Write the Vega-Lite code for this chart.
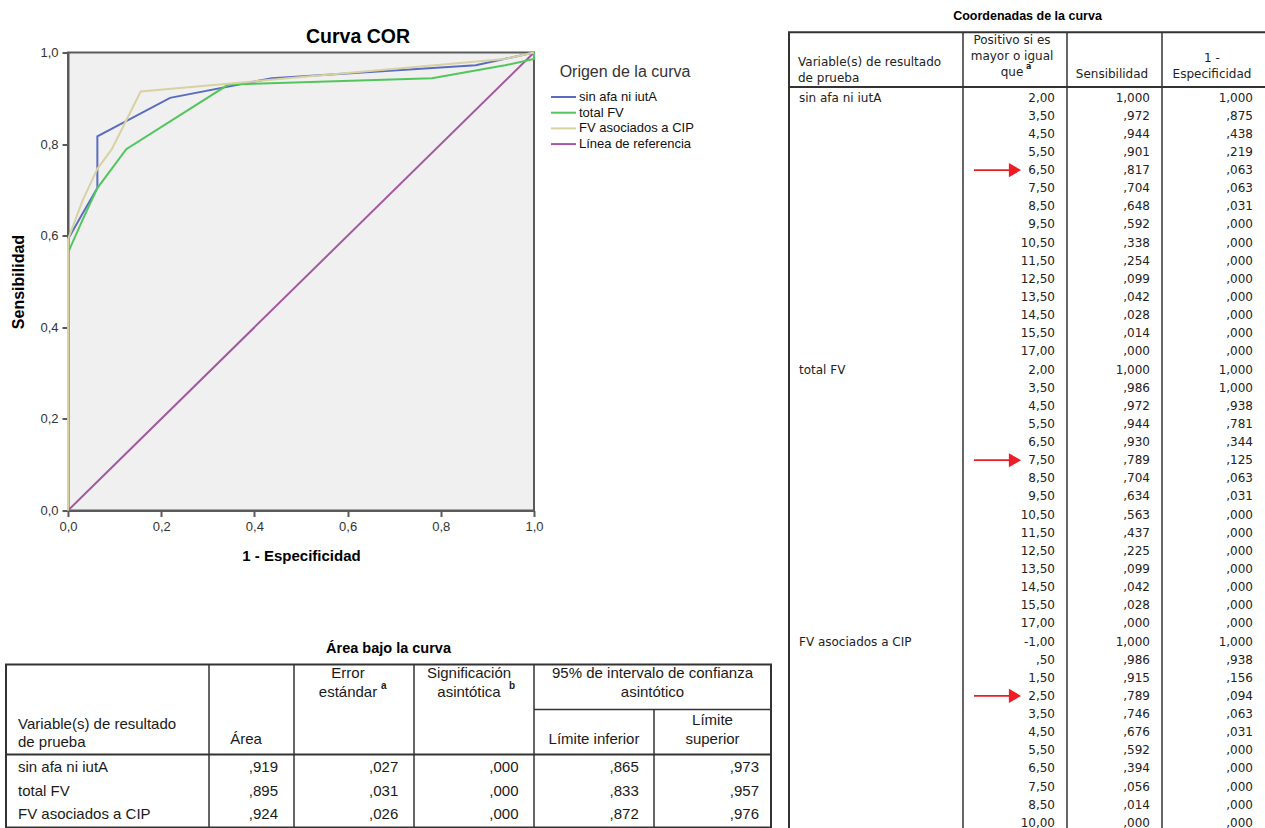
{
  "$schema": "https://vega.github.io/schema/vega-lite/v6.json",
  "padding": {"left": 5, "top": 8, "right": 0, "bottom": 0},
  "background": "white",
  "datasets": {
    "coordenadas": [
      {"n": 1, "variable": "sin afa ni iutA", "umbral": 2.0, "sens": 1.0, "esp": 1.0, "flecha": false},
      {"n": 2, "variable": "sin afa ni iutA", "umbral": 3.5, "sens": 0.972, "esp": 0.875, "flecha": false},
      {"n": 3, "variable": "sin afa ni iutA", "umbral": 4.5, "sens": 0.944, "esp": 0.438, "flecha": false},
      {"n": 4, "variable": "sin afa ni iutA", "umbral": 5.5, "sens": 0.901, "esp": 0.219, "flecha": false},
      {"n": 5, "variable": "sin afa ni iutA", "umbral": 6.5, "sens": 0.817, "esp": 0.063, "flecha": true},
      {"n": 6, "variable": "sin afa ni iutA", "umbral": 7.5, "sens": 0.704, "esp": 0.063, "flecha": false},
      {"n": 7, "variable": "sin afa ni iutA", "umbral": 8.5, "sens": 0.648, "esp": 0.031, "flecha": false},
      {"n": 8, "variable": "sin afa ni iutA", "umbral": 9.5, "sens": 0.592, "esp": 0.0, "flecha": false},
      {"n": 9, "variable": "sin afa ni iutA", "umbral": 10.5, "sens": 0.338, "esp": 0.0, "flecha": false},
      {"n": 10, "variable": "sin afa ni iutA", "umbral": 11.5, "sens": 0.254, "esp": 0.0, "flecha": false},
      {"n": 11, "variable": "sin afa ni iutA", "umbral": 12.5, "sens": 0.099, "esp": 0.0, "flecha": false},
      {"n": 12, "variable": "sin afa ni iutA", "umbral": 13.5, "sens": 0.042, "esp": 0.0, "flecha": false},
      {"n": 13, "variable": "sin afa ni iutA", "umbral": 14.5, "sens": 0.028, "esp": 0.0, "flecha": false},
      {"n": 14, "variable": "sin afa ni iutA", "umbral": 15.5, "sens": 0.014, "esp": 0.0, "flecha": false},
      {"n": 15, "variable": "sin afa ni iutA", "umbral": 17.0, "sens": 0.0, "esp": 0.0, "flecha": false},
      {"n": 16, "variable": "total FV", "umbral": 2.0, "sens": 1.0, "esp": 1.0, "flecha": false},
      {"n": 17, "variable": "total FV", "umbral": 3.5, "sens": 0.986, "esp": 1.0, "flecha": false},
      {"n": 18, "variable": "total FV", "umbral": 4.5, "sens": 0.972, "esp": 0.938, "flecha": false},
      {"n": 19, "variable": "total FV", "umbral": 5.5, "sens": 0.944, "esp": 0.781, "flecha": false},
      {"n": 20, "variable": "total FV", "umbral": 6.5, "sens": 0.93, "esp": 0.344, "flecha": false},
      {"n": 21, "variable": "total FV", "umbral": 7.5, "sens": 0.789, "esp": 0.125, "flecha": true},
      {"n": 22, "variable": "total FV", "umbral": 8.5, "sens": 0.704, "esp": 0.063, "flecha": false},
      {"n": 23, "variable": "total FV", "umbral": 9.5, "sens": 0.634, "esp": 0.031, "flecha": false},
      {"n": 24, "variable": "total FV", "umbral": 10.5, "sens": 0.563, "esp": 0.0, "flecha": false},
      {"n": 25, "variable": "total FV", "umbral": 11.5, "sens": 0.437, "esp": 0.0, "flecha": false},
      {"n": 26, "variable": "total FV", "umbral": 12.5, "sens": 0.225, "esp": 0.0, "flecha": false},
      {"n": 27, "variable": "total FV", "umbral": 13.5, "sens": 0.099, "esp": 0.0, "flecha": false},
      {"n": 28, "variable": "total FV", "umbral": 14.5, "sens": 0.042, "esp": 0.0, "flecha": false},
      {"n": 29, "variable": "total FV", "umbral": 15.5, "sens": 0.028, "esp": 0.0, "flecha": false},
      {"n": 30, "variable": "total FV", "umbral": 17.0, "sens": 0.0, "esp": 0.0, "flecha": false},
      {"n": 31, "variable": "FV asociados a CIP", "umbral": -1.0, "sens": 1.0, "esp": 1.0, "flecha": false},
      {"n": 32, "variable": "FV asociados a CIP", "umbral": 0.5, "sens": 0.986, "esp": 0.938, "flecha": false},
      {"n": 33, "variable": "FV asociados a CIP", "umbral": 1.5, "sens": 0.915, "esp": 0.156, "flecha": false},
      {"n": 34, "variable": "FV asociados a CIP", "umbral": 2.5, "sens": 0.789, "esp": 0.094, "flecha": true},
      {"n": 35, "variable": "FV asociados a CIP", "umbral": 3.5, "sens": 0.746, "esp": 0.063, "flecha": false},
      {"n": 36, "variable": "FV asociados a CIP", "umbral": 4.5, "sens": 0.676, "esp": 0.031, "flecha": false},
      {"n": 37, "variable": "FV asociados a CIP", "umbral": 5.5, "sens": 0.592, "esp": 0.0, "flecha": false},
      {"n": 38, "variable": "FV asociados a CIP", "umbral": 6.5, "sens": 0.394, "esp": 0.0, "flecha": false},
      {"n": 39, "variable": "FV asociados a CIP", "umbral": 7.5, "sens": 0.056, "esp": 0.0, "flecha": false},
      {"n": 40, "variable": "FV asociados a CIP", "umbral": 8.5, "sens": 0.014, "esp": 0.0, "flecha": false},
      {"n": 41, "variable": "FV asociados a CIP", "umbral": 10.0, "sens": 0.0, "esp": 0.0, "flecha": false}
    ],
    "referencia": [
      {"variable": "Línea de referencia", "esp": 0, "sens": 0},
      {"variable": "Línea de referencia", "esp": 1, "sens": 1}
    ],
    "area": [
      {"n": 1, "variable": "sin afa ni iutA", "area": 0.919, "ee": 0.027, "sig": 0.0, "li": 0.865, "ls": 0.973},
      {"n": 2, "variable": "total FV", "area": 0.895, "ee": 0.031, "sig": 0.0, "li": 0.833, "ls": 0.957},
      {"n": 3, "variable": "FV asociados a CIP", "area": 0.924, "ee": 0.026, "sig": 0.0, "li": 0.872, "ls": 0.976}
    ]
  },
  "spacing": 15,
  "center": true,
  "resolve": {"scale": {"color": "independent"}, "legend": {"color": "independent"}},
  "hconcat": [
    {
      "spacing": 76,
      "resolve": {"scale": {"color": "independent"}, "legend": {"color": "independent"}},
      "vconcat": [
        {
          "width": 466,
          "height": 458,
          "title": {"text": "Curva COR", "frame": "bounds", "anchor": "middle", "fontSize": 19.5, "fontWeight": "bold", "color": "#000", "offset": -1},
          "view": {"fill": "#f0f0f0", "stroke": "#5a5a5a", "strokeWidth": 2},
          "encoding": {
            "x": {
              "field": "esp", "type": "quantitative", "title": "1 - Especificidad",
              "scale": {"domain": [0, 1], "nice": false},
              "axis": {
                "values": [0, 0.2, 0.4, 0.6, 0.8, 1],
                "labelExpr": "replace(format(datum.value, '.1f'), '.', ',')",
                "grid": false, "domainColor": "#5a5a5a", "domainWidth": 2,
                "tickColor": "#5a5a5a", "tickWidth": 2, "tickSize": 6,
                "labelPadding": 4, "labelFontSize": 13, "labelColor": "#333", "labelFlush": false,
                "titleFontSize": 15, "titleFontWeight": "bold", "titleColor": "#000", "titlePadding": 15
              }
            },
            "y": {
              "field": "sens", "type": "quantitative", "title": "Sensibilidad",
              "scale": {"domain": [0, 1], "nice": false},
              "axis": {
                "values": [0, 0.2, 0.4, 0.6, 0.8, 1],
                "labelExpr": "replace(format(datum.value, '.1f'), '.', ',')",
                "grid": false, "domainColor": "#5a5a5a", "domainWidth": 2,
                "tickColor": "#5a5a5a", "tickWidth": 2, "tickSize": 6,
                "labelPadding": 4, "labelFontSize": 13, "labelColor": "#333", "labelFlush": false,
                "titleFontSize": 16, "titleFontWeight": "bold", "titleColor": "#000", "titlePadding": 13
              }
            },
            "color": {
              "field": "variable", "type": "nominal",
              "scale": {
                "domain": ["sin afa ni iutA", "total FV", "FV asociados a CIP", "Línea de referencia"],
                "range": ["#5a6cc0", "#52c65c", "#d8d2a2", "#a3599f"]
              },
              "legend": {
                "title": "Origen de la curva", "orient": "right", "offset": 7, "padding": 11,
                "symbolType": "M-2,0L2,0", "symbolSize": 156, "symbolStrokeWidth": 2,
                "labelOffset": 8, "labelFontSize": 13, "labelColor": "#111",
                "titleFontSize": 16, "titleFontWeight": "normal", "titleColor": "#333",
                "titleAnchor": "middle", "titlePadding": 10, "rowPadding": 0.7
              }
            }
          },
          "layer": [
            {"data": {"name": "referencia"}, "mark": {"type": "line", "strokeWidth": 2}},
            {"data": {"name": "coordenadas"}, "mark": {"type": "line", "strokeWidth": 2}, "encoding": {"order": {"field": "n"}}}
          ]
        },
        {
          "width": 703,
          "height": 163,
          "title": {"text": "Área bajo la curva", "anchor": "middle", "dx": -31, "fontSize": 14.5, "fontWeight": "bold", "color": "#000", "offset": 7},
          "resolve": {"scale": {"x": "independent"}},
          "layer": [
            {
              "data": {"values": [{}]},
              "mark": {"type": "rect", "fill": null, "stroke": "#333", "strokeWidth": 2},
              "encoding": {
                "x": {"datum": 0, "type": "quantitative", "scale": {"domain": [0, 765], "range": [-62, 703], "nice": false, "zero": false}, "axis": null},
                "x2": {"datum": 765},
                "y": {"datum": -3.362, "type": "quantitative", "scale": {"domain": [-3.362, 3.574], "reverse": true, "nice": false, "zero": false}, "axis": null},
                "y2": {"datum": 3.574}
              }
            },
            {
              "data": {"values": [{}]},
              "mark": {"type": "rule", "color": "#333", "strokeWidth": 1.5},
              "encoding": {"x": {"datum": 203, "type": "quantitative", "scale": {"domain": [0, 765], "range": [-62, 703], "nice": false, "zero": false}, "axis": null}}
            },
            {
              "data": {"values": [{}]},
              "mark": {"type": "rule", "color": "#333", "strokeWidth": 1.5},
              "encoding": {"x": {"datum": 288, "type": "quantitative", "scale": {"domain": [0, 765], "range": [-62, 703], "nice": false, "zero": false}, "axis": null}}
            },
            {
              "data": {"values": [{}]},
              "mark": {"type": "rule", "color": "#333", "strokeWidth": 1.5},
              "encoding": {"x": {"datum": 408, "type": "quantitative", "scale": {"domain": [0, 765], "range": [-62, 703], "nice": false, "zero": false}, "axis": null}}
            },
            {
              "data": {"values": [{}]},
              "mark": {"type": "rule", "color": "#333", "strokeWidth": 1.5},
              "encoding": {"x": {"datum": 528, "type": "quantitative", "scale": {"domain": [0, 765], "range": [-62, 703], "nice": false, "zero": false}, "axis": null}}
            },
            {
              "data": {"values": [{}]},
              "mark": {"type": "rule", "color": "#333", "strokeWidth": 1.5},
              "encoding": {
                "x": {"datum": 648, "type": "quantitative", "scale": {"domain": [0, 765], "range": [-62, 703], "nice": false, "zero": false}, "axis": null},
                "y": {"datum": -1.447, "type": "quantitative", "scale": {"domain": [-3.362, 3.574], "reverse": true, "nice": false, "zero": false}, "axis": null},
                "y2": {"datum": 3.574}
              }
            },
            {
              "data": {"values": [{}]},
              "mark": {"type": "rule", "color": "#333", "strokeWidth": 1.5},
              "encoding": {
                "x": {"datum": 528, "type": "quantitative", "scale": {"domain": [0, 765], "range": [-62, 703], "nice": false, "zero": false}, "axis": null},
                "x2": {"datum": 765},
                "y": {"datum": -1.447, "type": "quantitative", "scale": {"domain": [-3.362, 3.574], "reverse": true, "nice": false, "zero": false}, "axis": null}
              }
            },
            {
              "data": {"values": [{}]},
              "mark": {"type": "rule", "color": "#333", "strokeWidth": 2},
              "encoding": {
                "x": {"datum": 0, "type": "quantitative", "scale": {"domain": [0, 765], "range": [-62, 703], "nice": false, "zero": false}, "axis": null},
                "x2": {"datum": 765},
                "y": {"datum": 0.468, "type": "quantitative", "scale": {"domain": [-3.362, 3.574], "reverse": true, "nice": false, "zero": false}, "axis": null}
              }
            },
            {
              "data": {"name": "area"},
              "mark": {"type": "text", "align": "left", "baseline": "middle", "fontSize": 15, "color": "#1a1a1a"},
              "encoding": {
                "x": {"datum": 12, "type": "quantitative", "scale": {"domain": [0, 765], "range": [-62, 703], "nice": false, "zero": false}, "axis": null},
                "y": {"field": "n", "type": "quantitative", "scale": {"domain": [-3.362, 3.574], "reverse": true, "nice": false, "zero": false}, "axis": null},
                "text": {"field": "variable"}
              }
            },
            {
              "data": {"name": "area"},
              "transform": [
                {"fold": ["area", "ee", "sig", "li", "ls"], "as": ["medida", "valor"]},
                {"calculate": "replace(abs(datum.valor) < 1 ? replace(format(datum.valor, '.3f'), '0.', '.') : format(datum.valor, '.3f'), '.', ',')", "as": "valor_txt"}
              ],
              "mark": {"type": "text", "align": "right", "baseline": "middle", "fontSize": 15, "color": "#1a1a1a"},
              "encoding": {
                "x": {"field": "medida", "type": "nominal", "scale": {"type": "point", "domain": ["area", "ee", "sig", "li", "ls"], "range": [210, 691], "padding": 0}, "axis": null},
                "y": {"field": "n", "type": "quantitative", "scale": {"domain": [-3.362, 3.574], "reverse": true, "nice": false, "zero": false}, "axis": null},
                "text": {"field": "valor_txt"}
              }
            },
            {
              "data": {"values": [{}]},
              "mark": {"type": "text", "text": ["Variable(s) de resultado", "de prueba"], "lineHeight": 18, "align": "left", "baseline": "middle", "fontSize": 15, "color": "#1a1a1a"},
              "encoding": {
                "x": {"datum": 12, "type": "quantitative", "scale": {"domain": [0, 765], "range": [-62, 703], "nice": false, "zero": false}, "axis": null},
                "y": {"datum": -0.809, "type": "quantitative", "scale": {"domain": [-3.362, 3.574], "reverse": true, "nice": false, "zero": false}, "axis": null}
              }
            },
            {
              "data": {"values": [{}]},
              "mark": {"type": "text", "text": "Área", "align": "center", "baseline": "middle", "fontSize": 15, "color": "#1a1a1a"},
              "encoding": {
                "x": {"datum": 240, "type": "quantitative", "scale": {"domain": [0, 765], "range": [-62, 703], "nice": false, "zero": false}, "axis": null},
                "y": {"datum": -0.213, "type": "quantitative", "scale": {"domain": [-3.362, 3.574], "reverse": true, "nice": false, "zero": false}, "axis": null}
              }
            },
            {
              "data": {"values": [{}]},
              "mark": {"type": "text", "text": ["Error", "estándar"], "lineHeight": 19, "align": "center", "baseline": "middle", "fontSize": 15, "color": "#1a1a1a"},
              "encoding": {
                "x": {"datum": 342, "type": "quantitative", "scale": {"domain": [0, 765], "range": [-62, 703], "nice": false, "zero": false}, "axis": null},
                "y": {"datum": -3.021, "type": "quantitative", "scale": {"domain": [-3.362, 3.574], "reverse": true, "nice": false, "zero": false}, "axis": null}
              }
            },
            {
              "data": {"values": [{}]},
              "mark": {"type": "text", "text": "a", "align": "left", "baseline": "middle", "fontSize": 10, "fontWeight": "bold", "color": "#1a1a1a"},
              "encoding": {
                "x": {"datum": 375, "type": "quantitative", "scale": {"domain": [0, 765], "range": [-62, 703], "nice": false, "zero": false}, "axis": null},
                "y": {"datum": -2.468, "type": "quantitative", "scale": {"domain": [-3.362, 3.574], "reverse": true, "nice": false, "zero": false}, "axis": null}
              }
            },
            {
              "data": {"values": [{}]},
              "mark": {"type": "text", "text": ["Significación", "asintótica"], "lineHeight": 19, "align": "center", "baseline": "middle", "fontSize": 15, "color": "#1a1a1a"},
              "encoding": {
                "x": {"datum": 463, "type": "quantitative", "scale": {"domain": [0, 765], "range": [-62, 703], "nice": false, "zero": false}, "axis": null},
                "y": {"datum": -3.021, "type": "quantitative", "scale": {"domain": [-3.362, 3.574], "reverse": true, "nice": false, "zero": false}, "axis": null}
              }
            },
            {
              "data": {"values": [{}]},
              "mark": {"type": "text", "text": "b", "align": "left", "baseline": "middle", "fontSize": 10, "fontWeight": "bold", "color": "#1a1a1a"},
              "encoding": {
                "x": {"datum": 503, "type": "quantitative", "scale": {"domain": [0, 765], "range": [-62, 703], "nice": false, "zero": false}, "axis": null},
                "y": {"datum": -2.468, "type": "quantitative", "scale": {"domain": [-3.362, 3.574], "reverse": true, "nice": false, "zero": false}, "axis": null}
              }
            },
            {
              "data": {"values": [{}]},
              "mark": {"type": "text", "text": ["95% de intervalo de confianza", "asintótico"], "lineHeight": 19, "align": "center", "baseline": "middle", "fontSize": 15, "color": "#1a1a1a"},
              "encoding": {
                "x": {"datum": 646.5, "type": "quantitative", "scale": {"domain": [0, 765], "range": [-62, 703], "nice": false, "zero": false}, "axis": null},
                "y": {"datum": -3.021, "type": "quantitative", "scale": {"domain": [-3.362, 3.574], "reverse": true, "nice": false, "zero": false}, "axis": null}
              }
            },
            {
              "data": {"values": [{}]},
              "mark": {"type": "text", "text": "Límite inferior", "align": "center", "baseline": "middle", "fontSize": 15, "color": "#1a1a1a"},
              "encoding": {
                "x": {"datum": 588, "type": "quantitative", "scale": {"domain": [0, 765], "range": [-62, 703], "nice": false, "zero": false}, "axis": null},
                "y": {"datum": -0.213, "type": "quantitative", "scale": {"domain": [-3.362, 3.574], "reverse": true, "nice": false, "zero": false}, "axis": null}
              }
            },
            {
              "data": {"values": [{}]},
              "mark": {"type": "text", "text": ["Límite", "superior"], "lineHeight": 19, "align": "center", "baseline": "middle", "fontSize": 15, "color": "#1a1a1a"},
              "encoding": {
                "x": {"datum": 706.5, "type": "quantitative", "scale": {"domain": [0, 765], "range": [-62, 703], "nice": false, "zero": false}, "axis": null},
                "y": {"datum": -1.021, "type": "quantitative", "scale": {"domain": [-3.362, 3.574], "reverse": true, "nice": false, "zero": false}, "axis": null}
              }
            }
          ]
        }
      ]
    },
    {
      "width": 477,
      "height": 815,
      "title": {"text": "Coordenadas de la curva", "fontSize": 12.5, "fontWeight": "bold", "color": "#000", "offset": 9},
      "view": {"stroke": "#333", "strokeWidth": 2},
      "layer": [
        {
          "data": {"values": [{}]},
          "mark": {"type": "rule", "color": "#333", "strokeWidth": 1.5},
          "encoding": {"x": {"datum": 174, "type": "quantitative", "scale": {"domain": [0, 477], "nice": false, "zero": false}, "axis": null}}
        },
        {
          "data": {"values": [{}]},
          "mark": {"type": "rule", "color": "#333", "strokeWidth": 1.5},
          "encoding": {"x": {"datum": 278, "type": "quantitative", "scale": {"domain": [0, 477], "nice": false, "zero": false}, "axis": null}}
        },
        {
          "data": {"values": [{}]},
          "mark": {"type": "rule", "color": "#333", "strokeWidth": 1.5},
          "encoding": {"x": {"datum": 373, "type": "quantitative", "scale": {"domain": [0, 477], "nice": false, "zero": false}, "axis": null}}
        },
        {
          "data": {"values": [{}]},
          "mark": {"type": "rule", "color": "#333", "strokeWidth": 2},
          "encoding": {"y": {"datum": 0.41, "type": "quantitative", "scale": {"domain": [-2.61, 42.34], "reverse": true, "nice": false, "zero": false}, "axis": null}}
        },
        {
          "data": {"name": "coordenadas"},
          "transform": [{"aggregate": [{"op": "min", "field": "n", "as": "n"}], "groupby": ["variable"]}],
          "mark": {"type": "text", "align": "left", "baseline": "middle", "font": "DejaVu Sans", "fontSize": 12, "color": "#222"},
          "encoding": {
            "x": {"datum": 10, "type": "quantitative", "scale": {"domain": [0, 477], "nice": false, "zero": false}, "axis": null},
            "y": {"field": "n", "type": "quantitative", "scale": {"domain": [-2.61, 42.34], "reverse": true, "nice": false, "zero": false}, "axis": null},
            "text": {"field": "variable"}
          }
        },
        {
          "data": {"name": "coordenadas"},
          "transform": [
            {"calculate": "replace(replace(abs(datum.umbral) < 1 ? replace(format(datum.umbral, '.2f'), '0.', '.') : format(datum.umbral, '.2f'), '.', ','), '−', '-')", "as": "valor_txt"}
          ],
          "mark": {"type": "text", "align": "right", "baseline": "middle", "font": "DejaVu Sans", "fontSize": 12, "color": "#222"},
          "encoding": {
            "x": {"datum": 266, "type": "quantitative", "scale": {"domain": [0, 477], "nice": false, "zero": false}, "axis": null},
            "y": {"field": "n", "type": "quantitative", "scale": {"domain": [-2.61, 42.34], "reverse": true, "nice": false, "zero": false}, "axis": null},
            "text": {"field": "valor_txt"}
          }
        },
        {
          "data": {"name": "coordenadas"},
          "transform": [
            {"calculate": "replace(abs(datum.sens) < 1 ? replace(format(datum.sens, '.3f'), '0.', '.') : format(datum.sens, '.3f'), '.', ',')", "as": "valor_txt"}
          ],
          "mark": {"type": "text", "align": "right", "baseline": "middle", "font": "DejaVu Sans", "fontSize": 12, "color": "#222"},
          "encoding": {
            "x": {"datum": 361, "type": "quantitative", "scale": {"domain": [0, 477], "nice": false, "zero": false}, "axis": null},
            "y": {"field": "n", "type": "quantitative", "scale": {"domain": [-2.61, 42.34], "reverse": true, "nice": false, "zero": false}, "axis": null},
            "text": {"field": "valor_txt"}
          }
        },
        {
          "data": {"name": "coordenadas"},
          "transform": [
            {"calculate": "replace(abs(datum.esp) < 1 ? replace(format(datum.esp, '.3f'), '0.', '.') : format(datum.esp, '.3f'), '.', ',')", "as": "valor_txt"}
          ],
          "mark": {"type": "text", "align": "right", "baseline": "middle", "font": "DejaVu Sans", "fontSize": 12, "color": "#222"},
          "encoding": {
            "x": {"datum": 464, "type": "quantitative", "scale": {"domain": [0, 477], "nice": false, "zero": false}, "axis": null},
            "y": {"field": "n", "type": "quantitative", "scale": {"domain": [-2.61, 42.34], "reverse": true, "nice": false, "zero": false}, "axis": null},
            "text": {"field": "valor_txt"}
          }
        },
        {
          "data": {"name": "coordenadas"},
          "transform": [{"filter": "datum.flecha"}],
          "mark": {"type": "rule", "color": "#ee1c24", "strokeWidth": 1.8},
          "encoding": {
            "x": {"datum": 185, "type": "quantitative", "scale": {"domain": [0, 477], "nice": false, "zero": false}, "axis": null},
            "x2": {"datum": 222},
            "y": {"field": "n", "type": "quantitative", "scale": {"domain": [-2.61, 42.34], "reverse": true, "nice": false, "zero": false}, "axis": null}
          }
        },
        {
          "data": {"name": "coordenadas"},
          "transform": [{"filter": "datum.flecha"}],
          "mark": {"type": "point", "shape": "triangle-right", "filled": true, "color": "#ee1c24", "opacity": 1, "size": 200},
          "encoding": {
            "x": {"datum": 226, "type": "quantitative", "scale": {"domain": [0, 477], "nice": false, "zero": false}, "axis": null},
            "y": {"field": "n", "type": "quantitative", "scale": {"domain": [-2.61, 42.34], "reverse": true, "nice": false, "zero": false}, "axis": null}
          }
        },
        {
          "data": {"values": [{}]},
          "mark": {"type": "text", "text": ["Variable(s) de resultado", "de prueba"], "lineHeight": 16, "align": "left", "baseline": "middle", "font": "DejaVu Sans", "fontSize": 12, "color": "#222"},
          "encoding": {
            "x": {"datum": 9, "type": "quantitative", "scale": {"domain": [0, 477], "nice": false, "zero": false}, "axis": null},
            "y": {"datum": -0.969, "type": "quantitative", "scale": {"domain": [-2.61, 42.34], "reverse": true, "nice": false, "zero": false}, "axis": null}
          }
        },
        {
          "data": {"values": [{}]},
          "mark": {"type": "text", "text": ["Positivo si es", "mayor o igual", "que"], "lineHeight": 16, "align": "center", "baseline": "middle", "font": "DejaVu Sans", "fontSize": 12, "color": "#222"},
          "encoding": {
            "x": {"datum": 223, "type": "quantitative", "scale": {"domain": [0, 477], "nice": false, "zero": false}, "axis": null},
            "y": {"datum": -2.183, "type": "quantitative", "scale": {"domain": [-2.61, 42.34], "reverse": true, "nice": false, "zero": false}, "axis": null}
          }
        },
        {
          "data": {"values": [{}]},
          "mark": {"type": "text", "text": "a", "align": "left", "baseline": "middle", "font": "DejaVu Sans", "fontSize": 8, "fontWeight": "bold", "color": "#222"},
          "encoding": {
            "x": {"datum": 237, "type": "quantitative", "scale": {"domain": [0, 477], "nice": false, "zero": false}, "axis": null},
            "y": {"datum": -0.693, "type": "quantitative", "scale": {"domain": [-2.61, 42.34], "reverse": true, "nice": false, "zero": false}, "axis": null}
          }
        },
        {
          "data": {"values": [{}]},
          "mark": {"type": "text", "text": "Sensibilidad", "align": "center", "baseline": "middle", "font": "DejaVu Sans", "fontSize": 12, "color": "#222"},
          "encoding": {
            "x": {"datum": 323, "type": "quantitative", "scale": {"domain": [0, 477], "nice": false, "zero": false}, "axis": null},
            "y": {"datum": -0.303, "type": "quantitative", "scale": {"domain": [-2.61, 42.34], "reverse": true, "nice": false, "zero": false}, "axis": null}
          }
        },
        {
          "data": {"values": [{}]},
          "mark": {"type": "text", "text": ["1 -", "Especificidad"], "lineHeight": 16, "align": "center", "baseline": "middle", "font": "DejaVu Sans", "fontSize": 12, "color": "#222"},
          "encoding": {
            "x": {"datum": 423, "type": "quantitative", "scale": {"domain": [0, 477], "nice": false, "zero": false}, "axis": null},
            "y": {"datum": -1.19, "type": "quantitative", "scale": {"domain": [-2.61, 42.34], "reverse": true, "nice": false, "zero": false}, "axis": null}
          }
        }
      ]
    }
  ],
  "config": {
    "font": "Liberation Sans",
    "view": {"stroke": null}
  }
}
